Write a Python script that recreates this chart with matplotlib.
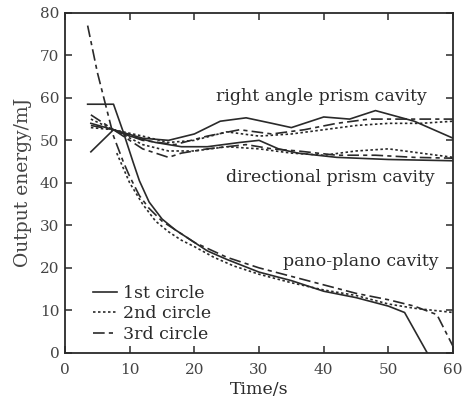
import numpy as np
import matplotlib
matplotlib.use("Agg")
import matplotlib.pyplot as plt

plt.rcParams['font.family'] = ['DejaVu Serif']

# pano-plano cavity
pp1_x = [3.5, 7.5, 9, 10.5, 11.5, 13, 15, 17, 19, 22, 25, 30, 35, 40, 45, 50, 52.5, 56]
pp1_y = [58.5, 58.5, 52, 45, 40.5, 35.5, 31.5, 29, 27, 24, 22, 19, 17, 14.5, 13, 11, 9.5, 0]
pp2_x = [8, 10, 12, 14, 16, 18, 20, 23, 26, 30, 35, 40, 45, 50, 54, 57, 60]
pp2_y = [47, 40, 35, 31, 28.5, 26.5, 25, 22.5, 20.5, 18.5, 16.5, 14.8, 13.5, 11.5, 10.5, 10, 9.5]
pp3_x = [3.5, 5, 6.5, 7.5, 9, 10, 11.5, 13, 15, 17, 20, 25, 30, 35, 40, 45, 50, 54, 57.5, 60]
pp3_y = [77, 66, 57, 51, 45, 41.5, 37, 34, 31, 29, 26, 22.5, 20, 18, 16, 14, 12.5, 11, 9, 1.5]

# right angle prism cavity
ra1_x = [4, 7.5, 12, 16, 20, 24, 28, 32, 35, 40, 44, 48, 54, 60]
ra1_y = [54, 52.5, 50.5, 50, 51.5, 54.5, 55.3, 54, 53, 55.5, 55, 57, 54.5, 50.5]
ra2_x = [4, 7.5, 12, 16, 20, 25, 30, 35, 40, 45, 50, 55, 60]
ra2_y = [55, 52.5, 51, 49.5, 50, 52, 51, 51.5, 52.5, 53.5, 54, 54, 54.5]
ra3_x = [4, 7.5, 12, 17, 22, 27, 32, 37, 42, 47, 52, 56, 60]
ra3_y = [56, 52.5, 50, 49, 51, 52.5, 51.5, 52.5, 54, 55, 55, 55, 55]

# directional prism cavity
dp1_x = [4, 7.5, 10, 14, 18, 22, 27, 30, 33, 36, 42, 50, 60]
dp1_y = [47.3, 52.5, 51, 49.5, 48.5, 48.5, 49.5, 50, 48, 47, 46, 45.5, 45.2]
dp2_x = [4, 7.5, 12, 16, 20, 25, 30, 35, 40, 45, 50, 55, 60]
dp2_y = [53, 52.5, 49, 47.5, 47.5, 48.5, 48, 47, 46.5, 47.5, 48, 47, 46]
dp3_x = [4, 7.5, 12, 16, 18, 22, 28, 32, 36, 42, 48, 54, 60]
dp3_y = [53.5, 52.5, 48, 46, 47, 48, 49, 48, 47.5, 46.5, 46.5, 46, 45.8]

x_ticks = [0, 10, 20, 30, 40, 50, 60]
y_ticks = [0, 10, 20, 30, 40, 50, 60, 70, 80]

ink = '#2a2a2a'
lw = 1.2
styles = [dict(linestyle='-'),
          dict(linestyle=(0, (1.5, 1.5))),
          dict(linestyle=(0, (7, 2.5, 2.5, 2.5)))]
labels = ['1st circle', '2nd circle', '3rd circle']

fig = plt.figure(figsize=(4.71, 4.01), dpi=100)
ax = fig.add_axes([0.138, 0.12, 0.824, 0.848])

groups = [[(pp1_x, pp1_y), (pp2_x, pp2_y), (pp3_x, pp3_y)],
          [(ra1_x, ra1_y), (ra2_x, ra2_y), (ra3_x, ra3_y)],
          [(dp1_x, dp1_y), (dp2_x, dp2_y), (dp3_x, dp3_y)]]
for g, grp in enumerate(groups):
    for i, (xs, ys) in enumerate(grp):
        ax.plot(xs, ys, color=ink, lw=lw, label=labels[i] if g == 0 else None, **styles[i])

ax.set_xlim(0, 60)
ax.set_ylim(0, 80)
ax.set_xticks(x_ticks)
ax.set_yticks(y_ticks)
ax.tick_params(direction='in', top=True, right=True, length=5, width=1.1,
               labelsize=11, color=ink, labelcolor='#444444')
ax.tick_params(axis='y', pad=4)
ax.tick_params(axis='x', pad=7)
for s in ax.spines.values():
    s.set_linewidth(1.3)
    s.set_color(ink)

ax.set_xlabel('Time/s', fontsize=12.5, color=ink, labelpad=3)
ax.set_ylabel('Output energy/mJ', fontsize=13.5, color='#444444', labelpad=6)

ax.text(39.6, 60.2, 'right angle prism cavity', fontsize=12.5, color=ink, ha='center', va='center')
ax.text(41.1, 41.2, 'directional prism cavity', fontsize=12.5, color=ink, ha='center', va='center')
ax.text(45.7, 21.4, 'pano-plano cavity', fontsize=12.5, color=ink, ha='center', va='center')

ax.legend(loc='lower left', bbox_to_anchor=(0.072, 0.03), frameon=False, fontsize=12.5,
          handlelength=1.4, handletextpad=0.35, labelspacing=0.2, borderpad=0,
          borderaxespad=0, labelcolor=ink)

fig.savefig('out.png', dpi=100)
